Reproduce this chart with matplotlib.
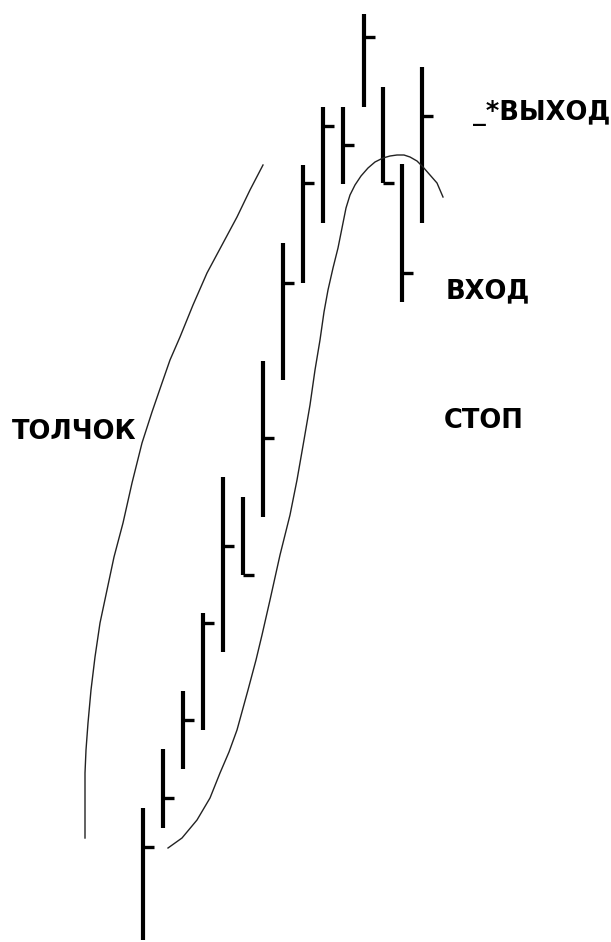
import matplotlib
matplotlib.use("Agg")
import matplotlib.pyplot as plt

# bar chart traced in picture coordinates (y grows downward)
bar_x = [143, 163, 183, 203, 223, 243, 263, 283, 303, 323, 343, 364, 383, 402, 422]
bar_high = [808, 749, 691, 613, 477, 497, 361, 243, 165, 107, 107, 14, 87, 164, 67]
bar_low = [940, 828, 769, 730, 652, 575, 517, 380, 283, 223, 184, 107, 183, 302, 223]
bar_close = [847, 798, 720, 623, 546, 575, 438, 283, 183, 126, 145, 37, 183, 273, 116]

# "push" curve on the left
push_x = [85, 85, 86, 88, 91, 95, 100, 107, 114, 123, 132, 142, 152, 162, 170,
          180, 193, 207, 222, 237, 250, 263]
push_y = [838, 773, 750, 723, 690, 657, 623, 590, 557, 523, 483, 443, 412, 383, 360,
          337, 305, 273, 245, 217, 190, 165]

# curve under the bars, rounding over the top
arc_x = [168, 182, 197, 210, 220, 229, 237, 248, 256, 262, 270, 280, 290, 297, 304,
         310, 315, 320, 324, 328, 333, 338, 342, 346, 350, 355, 361, 368, 375,
         383, 390, 397, 404, 410, 417, 423, 430, 437, 443]
arc_y = [848, 838, 820, 798, 773, 752, 730, 690, 660, 635, 600, 555, 515, 480, 440,
         405, 370, 340, 312, 290, 268, 248, 228, 208, 195, 185, 176, 168, 162,
         158, 156, 155, 155, 157, 161, 167, 175, 183, 197]

labels = ["ТОЛЧОК", "_*ВЫХОД", "ВХОД", "СТОП"]

fig = plt.figure(figsize=(6.11, 9.42), dpi=100)
ax = fig.add_axes([0, 0, 1, 1])
ax.set_xlim(0, 611)
ax.set_ylim(942, 0)
ax.axis("off")

ax.vlines(bar_x, bar_high, bar_low, color="black", lw=3.0)
ax.hlines(bar_close, bar_x, [x + 11 for x in bar_x], color="black", lw=2.4)

ax.plot(push_x, push_y, color="#222222", lw=1.0)
ax.plot(arc_x, arc_y, color="#222222", lw=1.0)

font = dict(family="DejaVu Sans", weight="bold", fontsize=18.5, color="black")
ax.text(12, 432, labels[0], ha="left", va="center", **font)
ax.text(610, 113, labels[1], ha="right", va="center", **font)
ax.text(446, 291, labels[2], ha="left", va="center", **font)
ax.text(444, 421, labels[3], ha="left", va="center", **font)

fig.savefig("out.png", dpi=100, facecolor="white")
